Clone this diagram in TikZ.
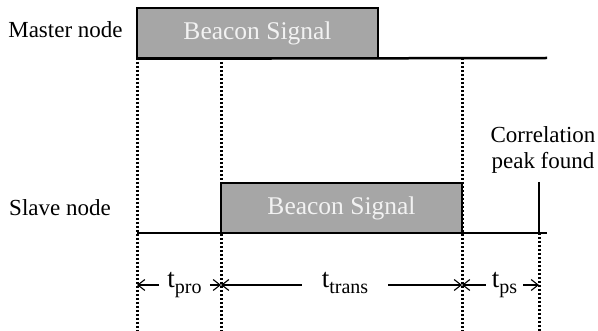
\documentclass[tikz,border=0pt]{standalone}
\usepackage{fontspec}
\setmainfont{Liberation Serif}
\usetikzlibrary{arrows.meta}
\newcommand{\tsub}[1]{t\raisebox{-6pt}{\fontsize{20}{20}\selectfont #1}}
\begin{document}
\begin{tikzpicture}[
        x=1pt, y=-1pt,
        every node/.style={font=\fontsize{23}{26}\selectfont, inner sep=0pt},
        signal/.style={rectangle, draw=black, line width=1.5pt, fill=black!35, text=black!5, minimum width=241pt, minimum height=50pt, font=\fontsize{25.5}{30}\selectfont},
        timeline/.style={line width=2.5pt, draw=black},
        guide/.style={line width=3pt, dash pattern=on 2.2pt off 1.8pt},
        span/.style={font=\fontsize{27}{30}\selectfont},
        arrow/.style={-{Straight Barb[length=7pt, width=11pt]}, line width=1.1pt, draw=black}
        ]
        \useasboundingbox (0,0) rectangle (598,331);
        
        % Guide positions
        \coordinate (g0) at (137,58);
        \coordinate (g1) at (221,58);
        \coordinate (g2) at (462,58);
        \coordinate (g3) at (539,233);
        \coordinate (b0) at (137,331);
        \coordinate (b1) at (221,331);
        \coordinate (b2) at (462,331);
        \coordinate (b3) at (539,331);
        \coordinate (mend) at (547,58);
        \coordinate (send) at (547,233);
        \coordinate (sstart) at (137,233);
        \coordinate (peak) at (539,182);
        
        % Dotted guides
        \draw[guide] (g0) -- (b0);
        \draw[guide] (g1) -- (b1);
        \draw[guide] (g2) -- (b2);
        \draw[guide] (g3) -- (b3);
        
        % Signals
        \node[signal] (mbeacon) at (257.5,33) {Beacon Signal};
        \node[signal] (sbeacon) at (341.5,208) {Beacon Signal};
        \node (master) at (65.5,30) {Master node};
        \node (slave) at (60,208) {Slave node};
        \node[align=center] (corr) at (543,150) {Correlation\\peak found};
        
        % Time lines
        \draw[timeline] (mbeacon.south west) -- (mend);
        \draw[timeline] (sstart) -- (send);
        \draw[line width=2pt] (peak) -- (g3);
        
        % Durations
        \coordinate (a0) at (137,285);
        \coordinate (a1) at (221,285);
        \coordinate (a2) at (462,285);
        \coordinate (a3) at (539,285);
        \node[span, anchor=mid, inner xsep=8pt] (tpro) at (184.5,285) {\tsub{pro}};
        \node[span, anchor=mid, inner xsep=20pt] (ttrans) at (345,285) {\tsub{trans}};
        \node[span, anchor=mid, inner xsep=6pt] (tps) at (504.5,285) {\tsub{ps}};
        \draw[arrow] (tpro.mid west) -- (a0);
        \draw[arrow] (tpro.mid east) -- (a1);
        \draw[arrow] (ttrans.mid west) -- (a1);
        \draw[arrow] (ttrans.mid east) -- (a2);
        \draw[arrow] (tps.mid west) -- (a2);
        \draw[arrow] (tps.mid east) -- (a3);
        
    \end{tikzpicture}
\end{document}
